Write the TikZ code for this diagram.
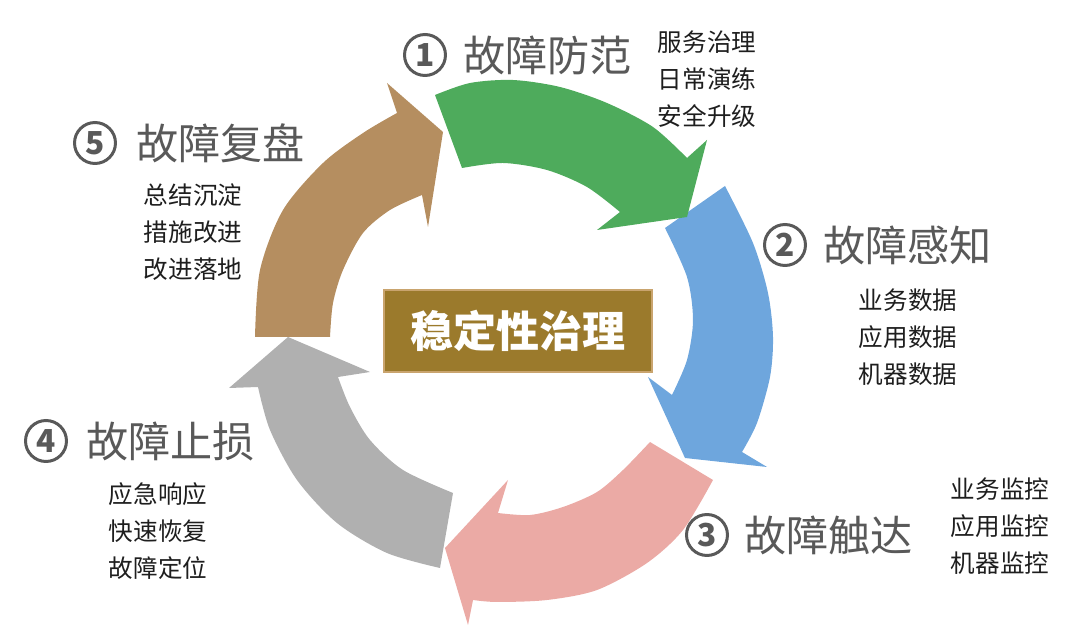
\documentclass[tikz,border=0pt]{standalone}
\usepackage{fontspec}
\setmainfont{Noto Sans CJK SC}
\usetikzlibrary{positioning}

\definecolor{cycgreen}{RGB}{78,171,92}
\definecolor{cycblue}{RGB}{110,166,221}
\definecolor{cycpink}{RGB}{235,170,165}
\definecolor{cycgray}{RGB}{176,176,176}
\definecolor{cycbrown}{RGB}{181,142,96}
\definecolor{corefill}{RGB}{155,122,44}
\definecolor{coreline}{RGB}{201,164,110}
\definecolor{titlegray}{RGB}{89,89,89}
\definecolor{listgray}{RGB}{30,30,30}

\tikzset{
  numring/.style={circle,draw=titlegray,line width=1.7pt,minimum size=0.82cm,
    inner sep=0pt,text=titlegray,font=\fontsize{18}{18}\selectfont\bfseries},
  steptitle/.style={anchor=west,inner sep=0pt,text=titlegray,
    font=\fontsize{24}{24}\selectfont},
  steplist/.style={align=center,inner sep=0pt,text=listgray,
    font=\fontsize{14}{21}\selectfont},
  corebox/.style={rectangle,fill=corefill,draw=coreline,line width=1.2pt,
    minimum width=5.36cm,minimum height=1.64cm,text=white,
    font=\fontsize{24.5}{24.5}\selectfont\bfseries}
}

\begin{document}
\begin{tikzpicture}[x=0.02cm,y=-0.02cm]
\useasboundingbox (0,0) rectangle (1080,638);
\fill[cycbrown] plot[smooth] coordinates {(255,337) (260,270) (283,210) (323,163) (363,133) (397,113)}
  -- (387,83) -- (443,132) -- (428,227)
  -- plot[smooth] coordinates {(422,195) (390,210) (363,233) (343,270) (333,303) (330,337)} -- cycle;
\fill[cycgray] plot[smooth] coordinates {(440,568) (387,553) (337,523) (297,480) (270,430) (258,387)}
  -- (229,388) -- (288,337) -- (370,372)
  -- plot[smooth] coordinates {(338,377) (350,407) (370,440) (403,470) (453,493)} -- cycle;
\fill[cycpink] plot[smooth] coordinates {(713,480) (683,530) (647,563) (597,590) (547,600) (497,602) (473,600)}
  -- (468,625) -- (445,548) -- (508,480)
  -- plot[smooth] coordinates {(498,513) (530,515) (563,507) (597,492) (623,470) (650,442)} -- cycle;
\fill[cycblue] plot[smooth] coordinates {(725,186) (753,243) (768,293) (773,337) (770,377) (757,423) (742,452)}
  -- (767,467) -- (685,458) -- (648,377)
  -- plot[smooth] coordinates {(672,395) (687,360) (693,320) (687,277) (665,228)} -- cycle;
\fill[cycgreen] plot[smooth] coordinates {(435,95) (470,83) (513,80) (560,87) (607,103) (653,127) (687,158)}
  -- (707,140) -- (687,217) -- (597,230)
  -- plot[smooth] coordinates {(620,212) (587,187) (547,170) (503,163) (462,168)} -- cycle;

\node[corebox] (core) at (518,331) {稳定性治理};

\node[numring] (n1) at (425,55) {1};
\node[steptitle] (t1) at (463,55) {故障防范};
\node[steplist] (l1) at (707,79) {服务治理\\日常演练\\安全升级};

\node[numring] (n2) at (785,245) {2};
\node[steptitle] (t2) at (823,245) {故障感知};
\node[steplist] (l2) at (908,337) {业务数据\\应用数据\\机器数据};

\node[numring] (n3) at (707,535) {3};
\node[steptitle] (t3) at (744,535) {故障触达};
\node[steplist] (l3) at (1000,526) {业务监控\\应用监控\\机器监控};

\node[numring] (n4) at (46,441) {4};
\node[steptitle] (t4) at (86,441) {故障止损};
\node[steplist] (l4) at (158,531) {应急响应\\快速恢复\\故障定位};

\node[numring] (n5) at (95,143) {5};
\node[steptitle] (t5) at (136,143) {故障复盘};
\node[steplist] (l5) at (193,232) {总结沉淀\\措施改进\\改进落地};
\end{tikzpicture}
\end{document}
